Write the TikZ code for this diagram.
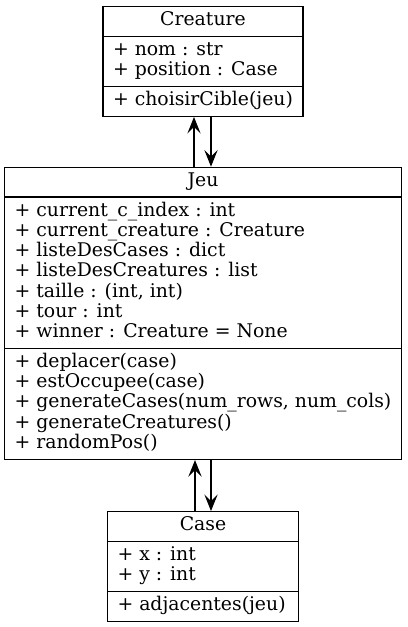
\documentclass[tikz,border=0pt]{standalone}
\usepackage{fontspec}
\setmainfont{DejaVu Serif}
\usetikzlibrary{arrows.meta, positioning, shapes.multipart}
\definecolor{LineBlack}{RGB}{0,0,0}
\tikzset{
  % UML class box: name / attributes / methods
  umlclass/.style={
    rectangle split, rectangle split parts=3,
    rectangle split part align={center,left,left},
    draw=LineBlack, line width=0.7pt, fill=white,
    font=\fontsize{11.3}{12}\selectfont,
    inner xsep=6pt, inner ysep=2.6pt
  },
  % Association arrow
  assoc/.style={
    -{Stealth[length=10pt, width=8pt, inset=4pt]},
    line width=0.7pt, color=LineBlack
  }
}
\newcommand{\members}[1]{\begin{tabular}{@{}l@{}}#1\end{tabular}}

\begin{document}
\begin{tikzpicture}[node distance=29.8pt]

  % ── Frame ─────────────────────────────────────────────────────────────────
  \useasboundingbox (-121.8pt,3.6pt) rectangle (122.4pt,-372.6pt);

  % ── Classes ───────────────────────────────────────────────────────────────
  \node[umlclass, minimum width=120pt, anchor=north] (creature) at (0,0)
  {\members{Creature}
   \nodepart{second}\members{+ nom : str\\+ position : Case}
   \nodepart{third}\members{+ choisirCible(jeu)}};

  \node[umlclass, minimum width=237.6pt, below=of creature] (jeu)
  {\members{Jeu}
   \nodepart{second}\members{+ current\_c\_index : int\\
     + current\_creature : Creature\\
     + listeDesCases : dict\\
     + listeDesCreatures : list\\
     + taille : (int, int)\\
     + tour : int\\
     + winner : Creature = None}
   \nodepart{third}\members{+ deplacer(case)\\
     + estOccupee(case)\\
     + generateCases(num\_rows, num\_cols)\\
     + generateCreatures()\\
     + randomPos()}};

  \node[umlclass, minimum width=114.6pt, below=30.6pt of jeu] (case)
  {\members{Case}
   \nodepart{second}\members{+ x : int\\+ y : int}
   \nodepart{third}\members{+ adjacentes(jeu)}};

  % ── Associations ──────────────────────────────────────────────────────────
  \draw[assoc] ([xshift=-5.4pt]jeu.north) -- ([xshift=-5.4pt]creature.south);
  \draw[assoc] ([xshift=4.8pt]creature.south) -- ([xshift=4.8pt]jeu.north);
  \draw[assoc] ([xshift=-4.8pt]case.north) -- ([xshift=-4.8pt]jeu.south);
  \draw[assoc] ([xshift=4.8pt]jeu.south) -- ([xshift=4.8pt]case.north);

\end{tikzpicture}
\end{document}
